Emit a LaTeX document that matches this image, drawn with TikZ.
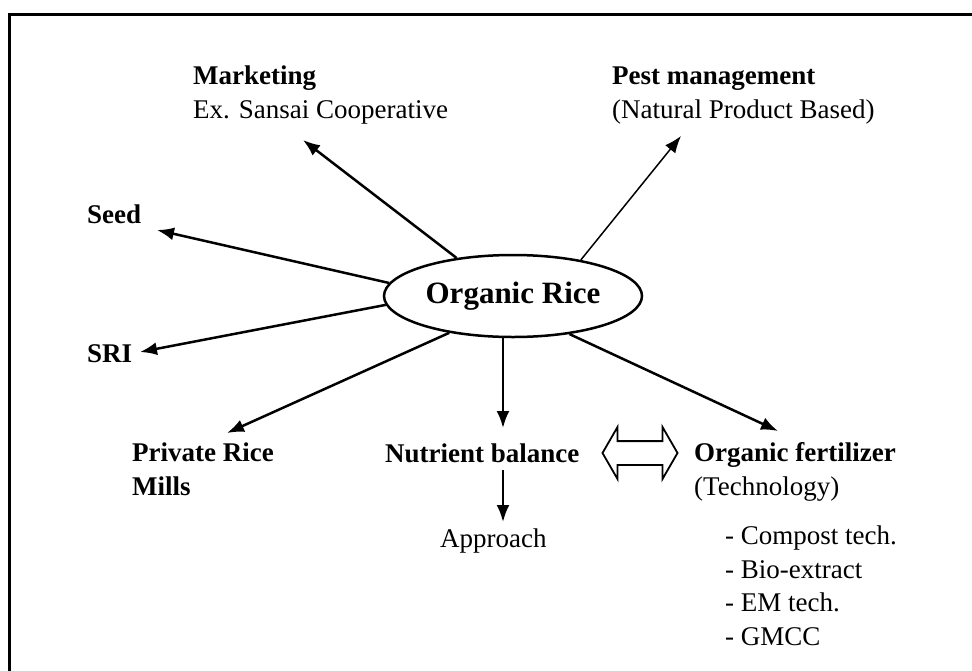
\documentclass[tikz,border=0pt]{standalone}
\usepackage{fontspec}
\setmainfont{Liberation Serif}
\usetikzlibrary{shapes, arrows.meta, positioning}

\begin{document}
\begin{tikzpicture}[x=1pt, y=-1pt, >={Latex[length=17pt,width=13pt]}]
        % Define styles
        \tikzstyle{topic} = [anchor=base west, inner sep=0pt, align=left, font=\fontsize{27}{34}\selectfont]
        \tikzstyle{hub} = [draw, ellipse, line width=2.5pt, minimum width=258pt, minimum height=82pt, inner sep=0pt, font=\fontsize{31}{37}\selectfont\bfseries]
        \tikzstyle{link} = [->, line width=2.5pt]
        \tikzstyle{tip} = [coordinate]

        \useasboundingbox (0,0) rectangle (972,670);
        \draw [line width=3pt] (9,672) -- (9,14) -- (974,14);

        % Nodes (base = baseline of the last line)
        \node [hub] (rice) at (513,296) {Organic Rice};
        \node [topic] (market) at (193,118) {\textbf{Marketing}\\Ex. Sansai Cooperative};
        \node [topic] (pest) at (612,118) {\textbf{Pest management}\\(Natural Product Based)};
        \node [topic] (seed) at (87,223) {\textbf{Seed}};
        \node [topic] (sri) at (87,362) {\textbf{SRI}};
        \node [topic] (mills) at (132,495) {\textbf{Private Rice}\\\textbf{Mills}};
        \node [topic] (nutrient) at (385,462) {\textbf{Nutrient balance}};
        \node [topic] (approach) at (440,547) {Approach};
        \node [topic] (fert) at (694,495) {\textbf{Organic fertilizer}\\(Technology)};
        \node [topic, font=\fontsize{27}{33.5}\selectfont] (techs) at (725,645) {- Compost tech.\\- Bio-extract\\- EM tech.\\- GMCC};
        \node [double arrow, draw, line width=1.8pt, minimum height=75pt, inner xsep=0pt, inner ysep=11pt,
               double arrow head extend=14pt, double arrow tip angle=120] (swap) at (640,453) {};

        % Arrow ends
        \node [tip] (markettip) at (303,140) {};
        \node [tip] (pesttip) at (681,136) {};
        \node [tip] (seedtip) at (157,230) {};
        \node [tip] (sritip) at (140,352) {};
        \node [tip] (millstip) at (227,433) {};
        \node [tip] (nutrienttip) at (503,428) {};
        \node [tip] (appfrom) at (503,470) {};
        \node [tip] (apptip) at (503,522) {};
        \node [tip] (ferttip) at (778,431) {};

        % Edges
        \draw [link] (rice.146) -- (markettip);
        \draw [link, line width=1.5pt] (rice.28) -- (pesttip);
        \draw [link] (rice.174) -- (seedtip);
        \draw [link] (rice.184) -- (sritip);
        \draw [link] (rice.210) -- (millstip);
        \draw [link] (rice.south -| nutrienttip) -- (nutrienttip);
        \draw [link] (appfrom) -- (apptip);
        \draw [link] (rice.-34) -- (ferttip);
\end{tikzpicture}
\end{document}
